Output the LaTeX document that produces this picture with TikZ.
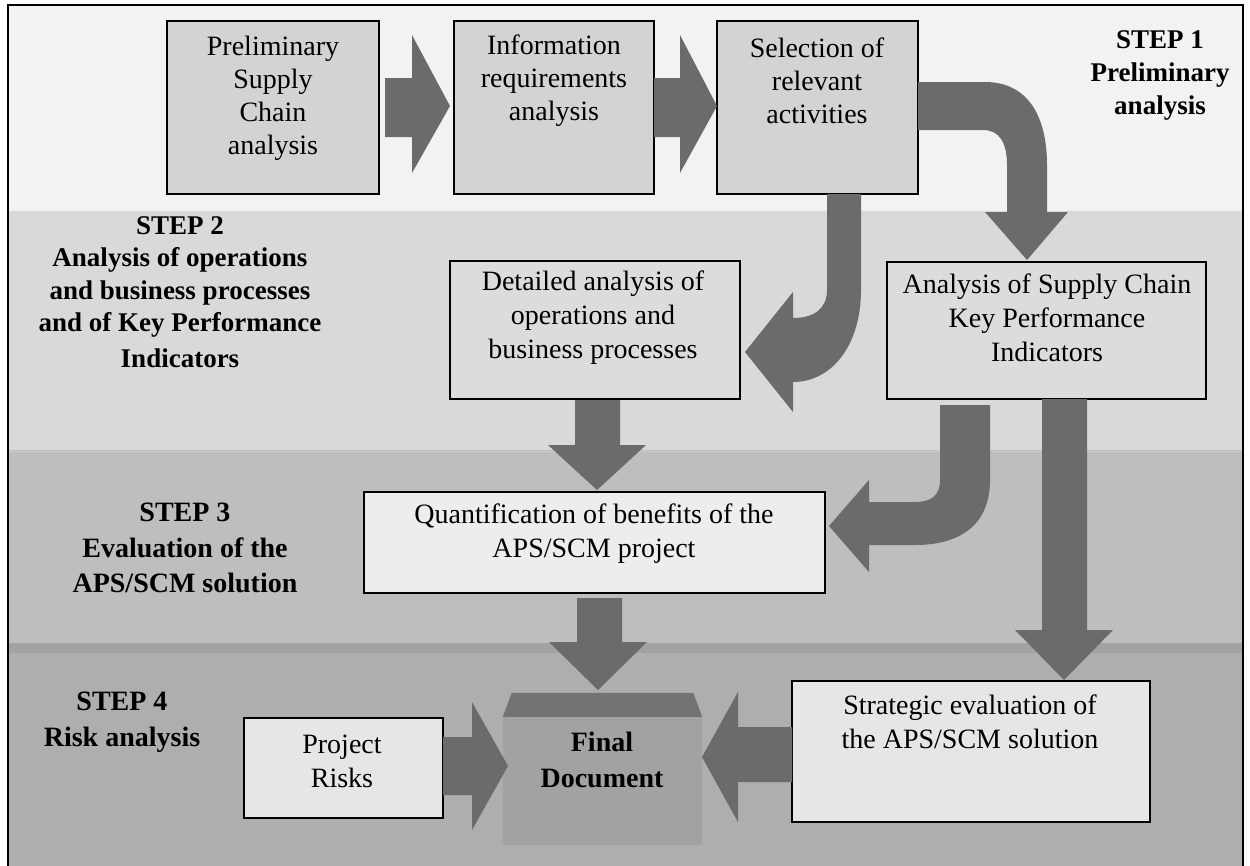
\documentclass[tikz,border=0pt]{standalone}
\usepackage{fontspec}
\setmainfont{Liberation Serif}
\usetikzlibrary{calc}
\definecolor{bandA}{HTML}{F1F2F2}
\definecolor{bandB}{HTML}{D9D9D9}
\definecolor{bandC}{HTML}{BEBEBE}
\definecolor{stripe}{HTML}{A3A3A3}
\definecolor{bandD}{HTML}{AEAEAE}
\definecolor{arrowgray}{HTML}{6B6B6B}
\definecolor{boxtop}{HTML}{D3D3D3}
\definecolor{boxmid}{HTML}{DCDCDC}
\definecolor{boxlight}{HTML}{EDEDED}
\definecolor{boxlow}{HTML}{E6E6E6}
\definecolor{lidgray}{HTML}{737373}
\definecolor{bodygray}{HTML}{A2A2A2}
\tikzset{
  box/.style={draw=black, line width=1.5pt, inner sep=0pt},
  arr/.style={fill=arrowgray, draw=none},
  txt/.style={font=\fontsize{28}{34}\selectfont, align=center, inner sep=0pt},
  steplbl/.style={font=\bfseries\fontsize{27}{32.5}\selectfont, align=center, inner sep=0pt},
}
\begin{document}
\begin{tikzpicture}[x=1pt,y=-1pt]
\useasboundingbox (0,0) rectangle (1250,865);
\begin{scope}
\clip (0,0) rectangle (1250,865);
\fill[white] (0,0) rectangle (1250,865);
\fill[bandA] (8,5) rectangle (1243,211);
\fill[bandB] (8,211) rectangle (1243,450);
\fill[bandC] (8,450) rectangle (1243,643);
\fill[stripe] (8,643) rectangle (1243,653);
\fill[bandD] (8,653) rectangle (1243,870);
\draw[line width=1pt, color=black!20] (8,451) -- (1243,451);
\draw[line width=2pt] (8,5) rectangle (1243,875);
\end{scope}

% ---------- boxes ----------
\node[box, fill=boxtop, minimum width=212pt, minimum height=173pt] (b1) at (273,107.5) {};
\node[box, fill=boxtop, minimum width=200pt, minimum height=173pt] (b2) at (554,107.5) {};
\node[box, fill=boxtop, minimum width=201pt, minimum height=173pt] (b3) at (817.5,107.5) {};
\node[box, fill=boxmid, minimum width=290pt, minimum height=138pt] (bD) at (595,330) {};
\node[box, fill=boxmid, minimum width=319pt, minimum height=137pt] (bK) at (1046.5,330.5) {};
\node[box, fill=boxlight, minimum width=461pt, minimum height=101pt] (bQ) at (594.5,542.5) {};
\node[box, fill=boxlow, minimum width=358pt, minimum height=141pt] (bS) at (971,751.5) {};
\node[box, fill=boxlow, minimum width=199pt, minimum height=100pt] (bR) at (343.5,768) {};

% final document
\node[fill=bodygray, inner sep=0pt, minimum width=199pt, minimum height=128pt] (fb) at (602.5,781) {};
\fill[lidgray] (fb.north west) -- ($(fb.north west)+(9,-24)$) -- ($(fb.north east)+(-9,-24)$) -- (fb.north east) -- cycle;

% ---------- arrows ----------
% b1 -> b2
\fill[arr] (385,78) -- (412,78) -- (412,35) -- (450,106) -- (412,173) -- (412,137) -- (385,137) -- cycle;
% b2 -> b3
\fill[arr] (654,78) -- (680,78) -- (680,35) -- (717,106) -- (680,173) -- (680,137) -- (654,137) -- cycle;
% b3 -> KPI (hook)
\fill[arr] (918,82) -- (985,82) .. controls (1027,82) and (1047,115) .. (1047,165) -- (1047,212) -- (1068,212) -- (1027,260)
  -- (985,212) -- (1007,212) -- (1007,165) .. controls (1007,142) and (999,130) .. (983,130) -- (918,130) -- cycle;
% b3 -> Detailed (J)
\fill[arr] (827,194) -- (861,194) -- (861,290) .. controls (861,345) and (832,382) .. (793,382) -- (793,412) -- (745,352)
  -- (793,292) -- (793,318) .. controls (815,318) and (827,308) .. (827,290) -- cycle;
% Detailed -> Quant
\fill[arr] (575,400) -- (620,400) -- (620,445) -- (646,445) -- (597,490) -- (548,445) -- (575,445) -- cycle;
% KPI -> Quant (J)
\fill[arr] (940,405) -- (990,405) -- (990,480) .. controls (990,525) and (960,545) .. (915,545) -- (869,545) -- (869,572)
  -- (829,526) -- (869,480) -- (869,502) -- (915,502) .. controls (932,502) and (940,495) .. (940,480) -- cycle;
% KPI -> Strategic
\fill[arr] (1042,399) -- (1087,399) -- (1087,630) -- (1113,630) -- (1064,680) -- (1015,630) -- (1042,630) -- cycle;
% Quant -> Final
\fill[arr] (577,598) -- (622,598) -- (622,642) -- (647,642) -- (598,690) -- (549,642) -- (577,642) -- cycle;
% Risks -> Final
\fill[arr] (443,737) -- (472,737) -- (472,702) -- (508,766) -- (472,830) -- (472,795) -- (443,795) -- cycle;
% Strategic -> Final
\fill[arr] (792,727) -- (738,727) -- (738,692) -- (702,757) -- (738,822) -- (738,782) -- (792,782) -- cycle;

% ---------- texts ----------
\node[txt, font=\fontsize{28}{33}\selectfont] (t1) at (273,98) {Preliminary\\Supply\\Chain\\analysis};
\node[txt, font=\fontsize{28}{33}\selectfont] (t2) at (554,81) {Information\\requirements\\analysis};
\node[txt, font=\fontsize{28}{33}\selectfont] (t3) at (817,81) {Selection of\\relevant\\activities};
\node[txt] (tD) at (593,318) {Detailed analysis of\\operations and\\business processes};
\node[txt] (tK) at (1047,318) {Analysis of Supply Chain\\Key Performance\\Indicators};
\node[txt] (tQ) at (594,534) {Quantification of benefits of the\\APS/SCM project};
\node[txt] (tS) at (970,722) {Strategic evaluation of\\the APS/SCM solution};
\node[txt] (tR) at (342,761) {Project\\Risks};
\node[txt, font=\bfseries\fontsize{28}{36}\selectfont] (tF) at (602,760) {Final\\Document};

\node[steplbl, font=\bfseries\fontsize{27}{33}\selectfont] (s1) at (1160,75) {STEP 1\\Preliminary\\analysis};
\node[steplbl] (s2) at (180,292) {STEP 2\\Analysis of operations\\and business processes\\and of Key Performance\\[3pt]Indicators};
\node[steplbl, font=\bfseries\fontsize{28}{35.5}\selectfont] (s3) at (185,548) {STEP 3\\Evaluation of the\\APS/SCM solution};
\node[steplbl, font=\bfseries\fontsize{28}{36}\selectfont] (s4) at (122,722) {STEP 4\\Risk analysis};
\end{tikzpicture}
\end{document}
